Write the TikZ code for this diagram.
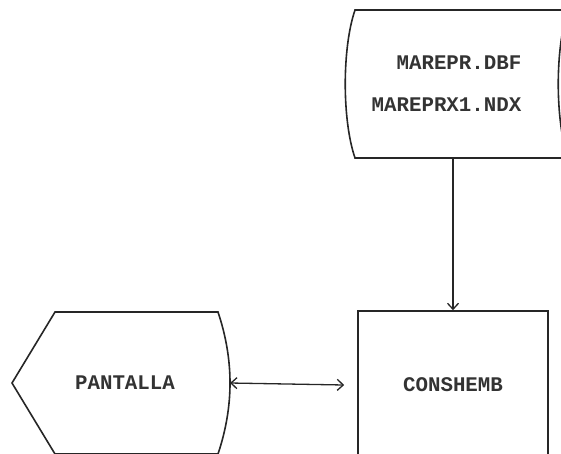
\documentclass[tikz,border=0pt]{standalone}
\usepackage{fontspec}
\setmonofont{Liberation Mono}
\usetikzlibrary{arrows.meta}
\begin{document}
\begin{tikzpicture}[x=1pt,y=-1pt,
  shapeline/.style={draw=black!85,line width=1.6pt},
  lbl/.style={font=\ttfamily\bfseries\fontsize{20.8}{42}\selectfont,text=black!80,inner sep=0pt},
  conn/.style={draw=black!85,line width=1.3pt},
  tip/.tip={Straight Barb[length=6pt,width=11pt]}]
\useasboundingbox (0,0) rectangle (561,453);
\clip (0,0) rectangle (561,453);
% stored data (files)
\draw[shapeline] (355,10) -- (568,10) .. controls (555,48) and (555,120) .. (568,158)
  -- (355,158) .. controls (342,120) and (342,48) .. (355,10) -- cycle;
\node[lbl,align=right] (db) at (446.5,84) {MAREPR.DBF\\MAREPRX1.NDX};
\coordinate (dbbot) at (453,158);
% process box
\node[shapeline,lbl,minimum width=190pt,minimum height=148pt] (cons) at (453,385) {CONSHEMB};
% display
\draw[shapeline] (55,312) -- (218,312) .. controls (234,360) and (234,406) .. (218,454)
  -- (55,454) -- (12,383) -- cycle;
\node[lbl] (pant) at (125,383) {PANTALLA};
\coordinate (pantR) at (230,383);
% connectors
\draw[conn,-tip] (dbbot) -- (cons.north);
\draw[conn,tip-tip] (pantR) -- ([xshift=-13pt]cons.west);
\end{tikzpicture}
\end{document}
